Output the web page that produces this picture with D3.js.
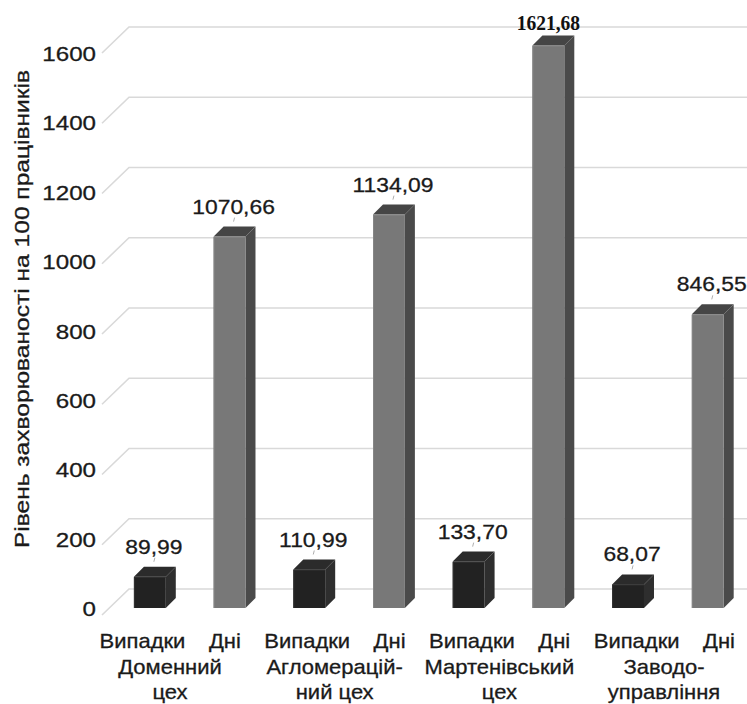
<!DOCTYPE html>
<html>
<head>
<meta charset="utf-8">
<script src="https://cdn.jsdelivr.net/npm/d3@7/dist/d3.min.js"></script>
<style>
  html, body { margin: 0; padding: 0; background: #fff; }
  svg { display: block; }
  text { font-family: "Liberation Sans", Arial, Helvetica, sans-serif; fill: #1a1a1a; stroke: #1a1a1a; stroke-width: 0.3px; }
</style>
</head>
<body>
<svg id="chart" width="747" height="704"></svg>
<script>
// Захворюваність по цехах: випадки та дні на 100 працівників
const groupLines = [
  ["Доменний", "цех"],
  ["Агломерацій-", "ний цех"],
  ["Мартенівський", "цех"],
  ["Заводо-", "управління"]
];
const seriesNames = ["Випадки", "Дні"];
const casesValues = [89.99, 110.99, 133.70, 68.07];
const daysValues = [1070.66, 1134.09, 1621.68, 846.55];
const yTicks = [0, 200, 400, 600, 800, 1000, 1200, 1400, 1600];
const yTitle = "Рівень захворюваності на 100 працівників";

const bars = [];
groupLines.forEach((g, i) => {
  bars.push({ key: i + "-0", group: i, series: 0, value: casesValues[i] });
  bars.push({ key: i + "-1", group: i, series: 1, value: daysValues[i] });
});

const svg = d3.select("#chart");

// front plane (bars, tick labels), back wall (gridlines) and side wall start points
const yFront = d3.scaleLinear().domain([0, 1600]).range([608, 53]);
const yBack = d3.scaleLinear().domain([0, 1600]).range([589, 27]);
const ySide = d3.scaleLinear().domain([0, 1600]).range([615, 53]);

const x = d3.scaleBand()
  .domain(bars.map(d => d.key))
  .range([110, 747.6])
  .paddingInner(0.6)
  .paddingOuter(0.3);

const xCat = d3.scaleLinear().domain([0, bars.length - 1]).range([142.5, 719]);
const xGroup = d3.scaleLinear().domain([0, groupLines.length - 1]).range([170, 664]);

const depth = { dx: 10, dy: 10 };
const wallLeft = 102, wallBack = 129, wallRight = 747;

// gridlines: side wall diagonal + back wall horizontal
const grid = svg.append("g").attr("fill", "none").attr("stroke", "#d9d9d9").attr("stroke-width", 1.6);
grid.selectAll("path").data(yTicks).join("path")
  .attr("d", v => `M${wallLeft},${ySide(v)}L${wallBack},${yBack(v)}L${wallRight},${yBack(v)}`);

// y axis tick labels
const yAxis = d3.axisLeft(yFront).tickValues(yTicks).tickSize(0).tickPadding(0).tickFormat(d3.format("d"));
const yG = svg.append("g").attr("transform", "translate(96,0)").call(yAxis);
yG.select(".domain").remove();
yG.selectAll("text")
  .attr("x", 0).attr("dy", "0.36em")
  .attr("transform", "scale(1.15,1)")
  .style("font-size", "21px")
  .style("font-family", "'Liberation Sans', Arial, sans-serif")
  .style("fill", "#1a1a1a");

// y title
svg.append("text")
  .attr("transform", "translate(29,309) rotate(-90) scale(1.17,1)")
  .attr("text-anchor", "middle")
  .style("font-size", "21px")
  .text(yTitle);

// 3D bars
const palette = [
  { front: "#222222", top: "#2b2b2b", side: "#2e2e2e", edge: "#333333" },
  { front: "#787878", top: "#454545", side: "#4a4a4a", edge: "#868686" }
];

const barG = svg.append("g").selectAll("g").data(bars).join("g");
barG.each(function (d) {
  const g = d3.select(this);
  const c = palette[d.series];
  const x0 = x(d.key), w = x.bandwidth();
  const yt = yFront(d.value), yb = yFront(0);
  const { dx, dy } = depth;
  g.append("path").attr("fill", c.side)
    .attr("d", `M${x0 + w},${yt}L${x0 + w + dx},${yt - dy}L${x0 + w + dx},${yb - dy}L${x0 + w},${yb}Z`);
  g.append("path").attr("fill", c.top)
    .attr("d", `M${x0},${yt}L${x0 + dx},${yt - dy}L${x0 + w + dx},${yt - dy}L${x0 + w},${yt}Z`);
  g.append("rect").attr("fill", c.front)
    .attr("x", x0).attr("y", yt).attr("width", w).attr("height", yb - yt);
  g.append("path").attr("fill", "none").attr("stroke", c.edge).attr("stroke-width", 1)
    .attr("d", `M${x0 + 0.5},${yb}L${x0 + 0.5},${yt + 0.5}L${x0 + w},${yt + 0.5}`);
});

// value labels
const fmt = v => d3.format(".2f")(v).replace(".", ",");
const maxValue = d3.max(bars, d => d.value);
const labelG = svg.append("g");
bars.forEach(d => {
  const cx = x(d.key) + x.bandwidth() / 2 + depth.dx / 2;
  const topBack = yFront(d.value) - depth.dy;
  if (d.value === maxValue) {
    labelG.append("text")
      .attr("transform", `translate(${cx - 5},${topBack - 5}) scale(0.93,1)`)
      .attr("text-anchor", "middle")
      .style("font-family", "'Liberation Serif', 'Times New Roman', serif")
      .style("font-weight", "bold")
      .style("font-size", "21px")
      .style("fill", "#111")
      .style("stroke", "none")
      .text(fmt(d.value));
  } else {
    labelG.append("text")
      .attr("transform", `translate(${cx - 1},${topBack - 13}) scale(1.09,1)`)
      .attr("text-anchor", "middle")
      .style("font-size", "21px")
      .text(fmt(d.value));
    labelG.append("line")
      .attr("x1", cx).attr("x2", cx - 1)
      .attr("y1", topBack - 9).attr("y2", topBack - 5)
      .attr("stroke", "#999").attr("stroke-width", 0.8);
  }
});

// category labels: series row and group rows
const catG = svg.append("g").attr("text-anchor", "middle").style("font-size", "20px");
bars.forEach((d, i) => {
  catG.append("text")
    .attr("transform", `translate(${xCat(i)},648) scale(1.1,1)`)
    .text(seriesNames[d.series]);
});
groupLines.forEach((lines, i) => {
  lines.forEach((t, j) => {
    catG.append("text")
      .attr("transform", `translate(${xGroup(i)},${674 + j * 25}) scale(1.1,1)`)
      .text(t);
  });
});
</script>
</body>
</html>
